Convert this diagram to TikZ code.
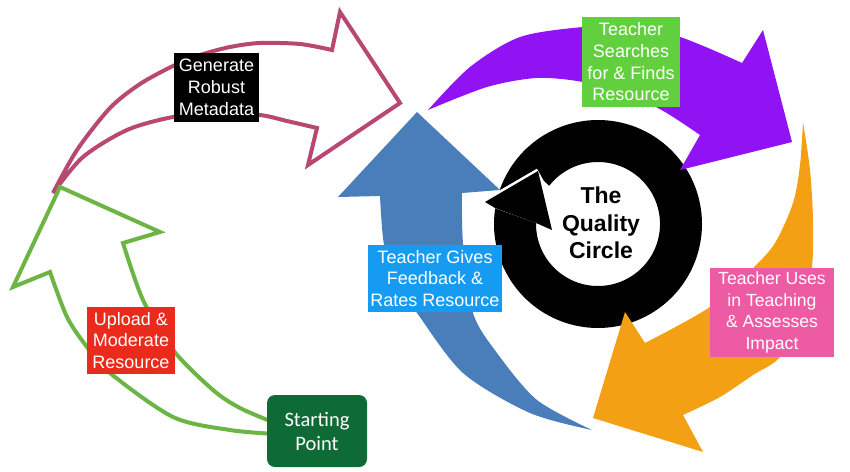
\documentclass[tikz,border=0pt]{standalone}
\usepackage{fontspec}
\setmainfont{Liberation Sans}
\newfontfamily\calibri{Carlito}
\definecolor{pinkline}{RGB}{185,72,112}
\definecolor{greenline}{RGB}{108,181,68}
\definecolor{startg}{RGB}{14,107,54}
\definecolor{redbox}{RGB}{234,42,27}
\definecolor{bluearrow}{RGB}{74,126,187}
\definecolor{bluebox}{RGB}{22,155,242}
\definecolor{purplearrow}{RGB}{145,19,244}
\definecolor{greenbox}{RGB}{98,208,62}
\definecolor{orangearrow}{RGB}{243,160,20}
\definecolor{pinkbox}{RGB}{236,91,164}
\tikzset{
  lbl/.style={inner sep=0pt, align=center, text=white, font=\fontsize{18}{21.7}\selectfont},
  outlinearrow/.style={line width=4pt, line join=miter, miter limit=10},
}
\begin{document}
\begin{tikzpicture}[x=1pt,y=-1pt]
\useasboundingbox (0,0) rectangle (850,471);
% pink outline arrow
\draw[outlinearrow, pinkline] (53,193) -- plot[smooth] coordinates {(53,193) (77,150) (110,108) (140,84) (173,66) (200,55) (230,47) (260,43) (300,44) (332,50)} -- (340,12) -- (400,103) -- (308,165) -- (317,128) -- plot[smooth] coordinates {(317,128) (287,121) (260,115) (217,113) (173,117) (127,130) (83,157) (53,193)} -- cycle;
% green outline arrow
\draw[outlinearrow, greenline] (275,423) -- plot[smooth] coordinates {(275,423) (240,408) (213,390) (173,350) (143,300) (123,243)} -- (160,232) -- (60,187) -- (13,287) -- (50,272) -- plot[smooth] coordinates {(50,272) (67,317) (87,347) (110,373) (173,417) (230,430) (275,434)} -- cycle;
% blue arrow
\fill[bluearrow] (417,112) -- (500,190) -- (462,193) -- plot[smooth] coordinates {(462,193) (463,243) (473,313) (497,353) (537,400) (592,430)} -- plot[smooth] coordinates {(592,430) (530,413) (463,373) (417,313) (396,283) (384,245) (380,196)} -- (338,197) -- cycle;
% black ring arrow: body and head
\fill[black] plot[domain=0:1, samples=140, variable=\t] ({598+104*cos(-161+350*\t)},{224+104*sin(-161+350*\t)}) -- (536,223) -- plot[domain=0:1, samples=140, variable=\t] ({598+62*cos(181-323.2*\t)},{224+62*sin(181-323.2*\t)}) -- (544,181) -- (537,168.5) -- cycle;
\fill[black] (485,202) -- (538,171) -- (552,230) -- (536,223) -- (495,208) -- cycle;
% purple arrow
\fill[purplearrow] (428,110) -- plot[smooth] coordinates {(428,110) (470,67) (520,37) (583,27) (625,27) (680,37) (742,63)} -- (763,30) -- (792,142) -- (680,170) -- (700,135) -- plot[smooth] coordinates {(700,135) (665,112) (630,95) (583,82) (537,78) (487,87) (428,110)} -- cycle;
% orange arrow
\fill[orangearrow] (803,122) -- plot[smooth] coordinates {(803,122) (810,170) (813,220) (812,267) (803,315) (780,357) (753,375) (720,397) (683,415)} -- (703,452) -- (593,418) -- (625,312) -- (645,343) -- plot[smooth] coordinates {(645,343) (710,307) (753,268) (775,243) (793,203) (800,165) (803,122)} -- cycle;
% labels
\node[lbl, fill=black, minimum width=85pt, minimum height=69pt] (meta) at (216.5,87.5) {Generate\\Robust\\Metadata};
\node[lbl, fill=redbox, minimum width=88pt, minimum height=67pt] (upload) at (131,340.5) {Upload \&\\Moderate\\Resource};
\node[inner sep=0pt, align=center, text=white, fill=startg, rounded corners=8pt, minimum width=100pt, minimum height=72pt, font=\calibri\fontsize{20.5}{24}\selectfont] (start) at (317,431) {Starting\\Point};
\node[lbl, fill=greenbox, minimum width=98pt, minimum height=90pt] (search) at (631,62) {Teacher\\Searches\\for \& Finds\\Resource};
\node[lbl, fill=bluebox, minimum width=134pt, minimum height=67pt] (feedback) at (435,278.5) {Teacher Gives\\Feedback \&\\Rates Resource};
\node[lbl, fill=pinkbox, minimum width=124pt, minimum height=89pt, font=\fontsize{17.6}{21.7}\selectfont] (uses) at (772,312.5) {Teacher Uses\\in Teaching\\\& Assesses\\Impact};
\node[inner sep=0pt, align=center, font=\bfseries\fontsize{23}{27.5}\selectfont] (quality) at (601,223) {The\\Quality\\Circle};
\end{tikzpicture}
\end{document}
